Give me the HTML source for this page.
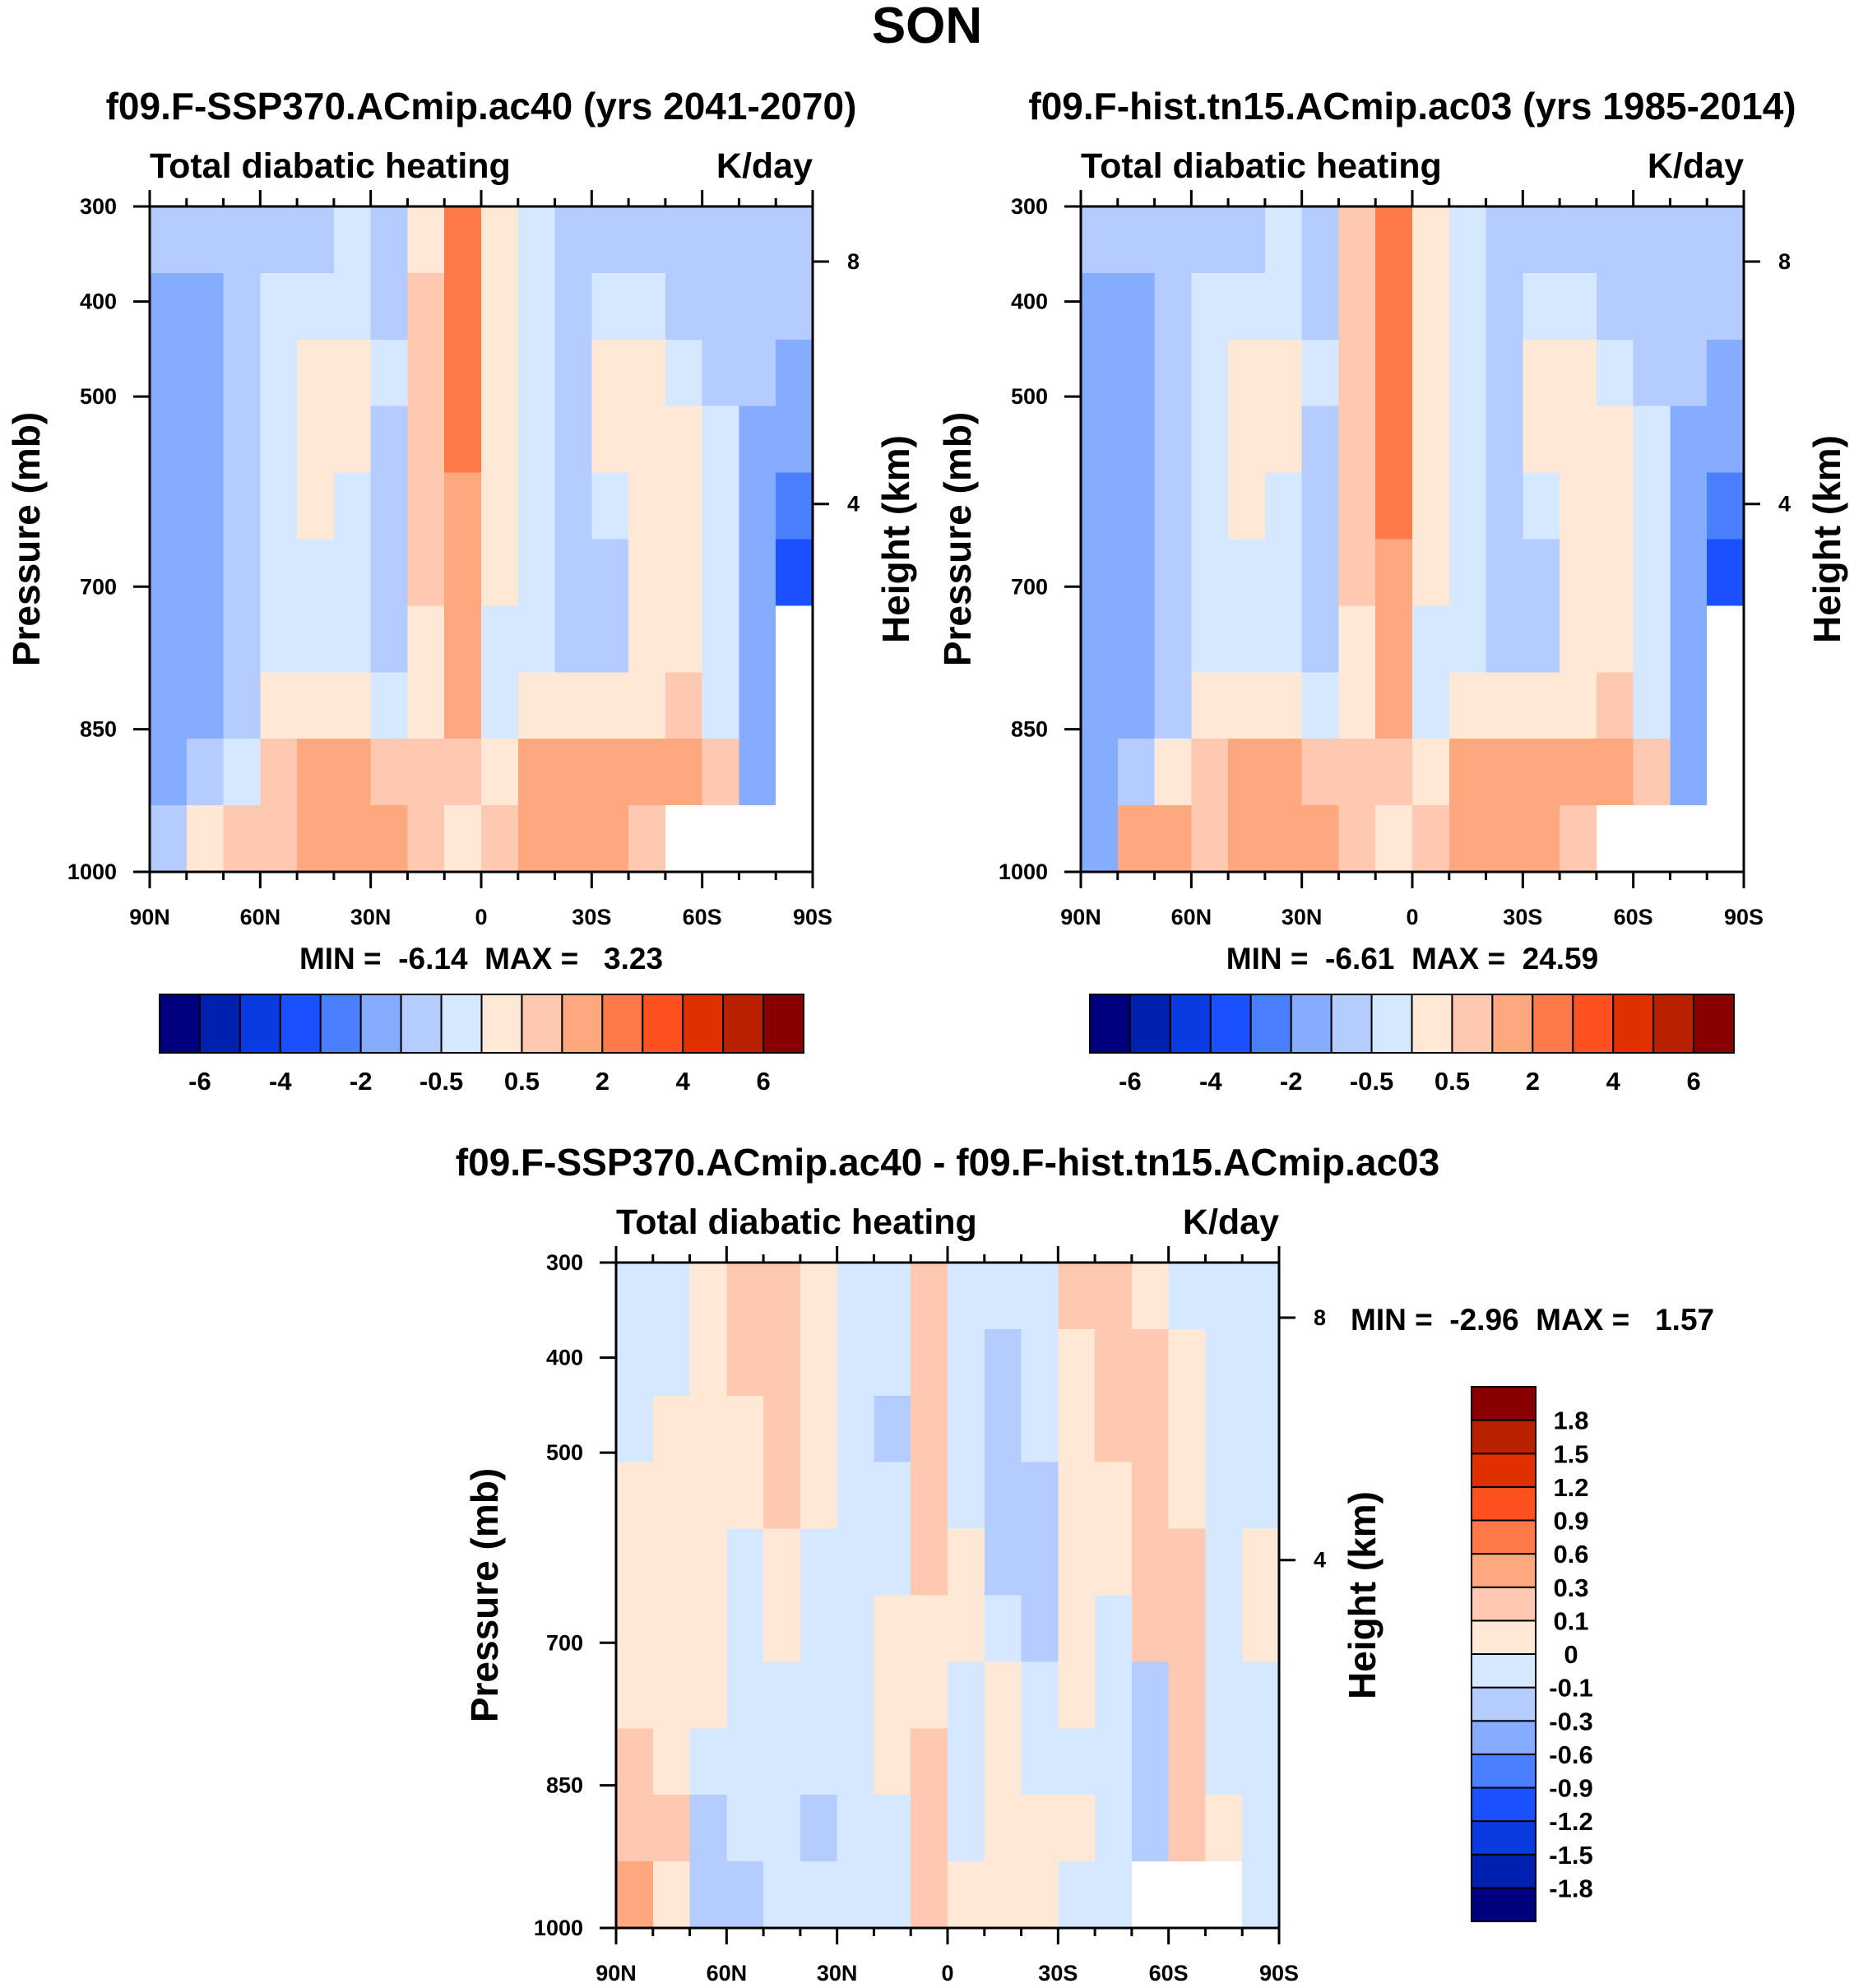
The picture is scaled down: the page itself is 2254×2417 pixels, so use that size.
<!DOCTYPE html>
<html><head><meta charset="utf-8">
<style>
html,body{margin:0;padding:0;background:#fff;}
svg{display:block;font-family:"Liberation Sans",sans-serif;font-weight:bold;}
.pre{white-space:pre;}
</style></head>
<body>
<svg id="fig" width="2254" height="2417" viewBox="0 0 2254 2417" xmlns="http://www.w3.org/2000/svg">
<text x="1127" y="52" font-size="62" text-anchor="middle">SON</text>
</svg>
<script>
const palette=["#00007f","#0020b0","#0a3be0","#1a50ff","#4a80ff","#86acff","#b4ccff","#d6e8ff","#ffe8d6","#ffc8b0","#ffa880","#ff7a48","#ff5020","#e03000","#b82000","#8a0000"];
const levelsAbs=[-6,-5,-4,-3,-2,-1,-0.5,0,0.5,1,2,3,4,5,6];
const levelLabelsAbs=["-6","-5","-4","-3","-2","-1","-0.5","0","0.5","1","2","3","4","5","6"];
const levelsDiff=[-1.8,-1.5,-1.2,-0.9,-0.6,-0.3,-0.1,0,0.1,0.3,0.6,0.9,1.2,1.5,1.8];
const levelLabelsDiff=["-1.8","-1.5","-1.2","-0.9","-0.6","-0.3","-0.1","0","0.1","0.3","0.6","0.9","1.2","1.5","1.8"];
const latCenters=[85,75,65,55,45,35,25,15,5,-5,-15,-25,-35,-45,-55,-65,-75,-85];
const latTicks=[90,60,30,0,-30,-60,-90];
const latTickLabels=["90N","60N","30N","0","30S","60S","90S"];
const presTicks=[300,400,500,700,850,1000];
const heightTicks=[8,4];
const heightTickPres=[358,613];
const N=NaN;
const panel1=[
[-0.7,-0.7,-0.7,-0.7,-0.7,-0.2,-0.7,0.3,2.5,0.3,-0.2,-0.7,-0.7,-0.7,-0.7,-0.7,-0.7,-0.7],
[-1.5,-1.5,-0.7,-0.2,-0.2,-0.2,-0.7,0.7,2.5,0.3,-0.2,-0.7,-0.2,-0.2,-0.7,-0.7,-0.7,-0.7],
[-1.5,-1.5,-0.7,-0.2,0.3,0.3,-0.2,0.7,2.5,0.3,-0.2,-0.7,0.3,0.3,-0.2,-0.7,-0.7,-1.5],
[-1.5,-1.5,-0.7,-0.2,0.3,0.3,-0.7,0.7,2.5,0.3,-0.2,-0.7,0.3,0.3,0.3,-0.2,-1.5,-1.5],
[-1.5,-1.5,-0.7,-0.2,0.3,-0.2,-0.7,0.7,1.5,0.3,-0.2,-0.7,-0.2,0.3,0.3,-0.2,-1.5,-2.5],
[-1.5,-1.5,-0.7,-0.2,-0.2,-0.2,-0.7,0.7,1.5,0.3,-0.2,-0.7,-0.7,0.3,0.3,-0.2,-1.5,-3.5],
[-1.5,-1.5,-0.7,-0.2,-0.2,-0.2,-0.7,0.3,1.5,-0.2,-0.2,-0.7,-0.7,0.3,0.3,-0.2,-1.5,N],
[-1.5,-1.5,-0.7,0.3,0.3,0.3,-0.2,0.3,1.5,-0.2,0.3,0.3,0.3,0.3,0.7,-0.2,-1.5,N],
[-1.5,-0.7,-0.2,0.7,1.5,1.5,0.7,0.7,0.7,0.3,1.5,1.5,1.5,1.5,1.5,0.7,-1.5,N],
[-0.7,0.3,0.7,0.7,1.5,1.5,1.5,0.7,0.3,0.7,1.5,1.5,1.5,0.7,N,N,N,N]];
const panel2=[
[-0.7,-0.7,-0.7,-0.7,-0.7,-0.2,-0.7,0.7,2.5,0.3,-0.2,-0.7,-0.7,-0.7,-0.7,-0.7,-0.7,-0.7],
[-1.5,-1.5,-0.7,-0.2,-0.2,-0.2,-0.7,0.7,2.5,0.3,-0.2,-0.7,-0.2,-0.2,-0.7,-0.7,-0.7,-0.7],
[-1.5,-1.5,-0.7,-0.2,0.3,0.3,-0.2,0.7,2.5,0.3,-0.2,-0.7,0.3,0.3,-0.2,-0.7,-0.7,-1.5],
[-1.5,-1.5,-0.7,-0.2,0.3,0.3,-0.7,0.7,2.5,0.3,-0.2,-0.7,0.3,0.3,0.3,-0.2,-1.5,-1.5],
[-1.5,-1.5,-0.7,-0.2,0.3,-0.2,-0.7,0.7,2.5,0.3,-0.2,-0.7,-0.2,0.3,0.3,-0.2,-1.5,-2.5],
[-1.5,-1.5,-0.7,-0.2,-0.2,-0.2,-0.7,0.7,1.5,0.3,-0.2,-0.7,-0.7,0.3,0.3,-0.2,-1.5,-3.5],
[-1.5,-1.5,-0.7,-0.2,-0.2,-0.2,-0.7,0.3,1.5,-0.2,-0.2,-0.7,-0.7,0.3,0.3,-0.2,-1.5,N],
[-1.5,-1.5,-0.7,0.3,0.3,0.3,-0.2,0.3,1.5,-0.2,0.3,0.3,0.3,0.3,0.7,-0.2,-1.5,N],
[-1.5,-0.7,0.3,0.7,1.5,1.5,0.7,0.7,0.7,0.3,1.5,1.5,1.5,1.5,1.5,0.7,-1.5,N],
[-1.5,1.5,1.5,0.7,1.5,1.5,1.5,0.7,0.3,0.7,1.5,1.5,1.5,0.7,N,N,N,N]];
const panelDiff=[
[-0.05,-0.05,0.05,0.2,0.2,0.05,-0.05,-0.05,0.2,-0.05,-0.05,-0.05,0.2,0.2,0.05,-0.05,-0.05,-0.05],
[-0.05,-0.05,0.05,0.2,0.2,0.05,-0.05,-0.05,0.2,-0.05,-0.2,-0.05,0.05,0.2,0.2,0.05,-0.05,-0.05],
[-0.05,0.05,0.05,0.05,0.2,0.05,-0.05,-0.2,0.2,-0.05,-0.2,-0.05,0.05,0.2,0.2,0.05,-0.05,-0.05],
[0.05,0.05,0.05,0.05,0.2,0.05,-0.05,-0.05,0.2,-0.05,-0.2,-0.2,0.05,0.05,0.2,0.05,-0.05,-0.05],
[0.05,0.05,0.05,-0.05,0.05,-0.05,-0.05,-0.05,0.2,0.05,-0.2,-0.2,0.05,0.05,0.2,0.2,-0.05,0.05],
[0.05,0.05,0.05,-0.05,0.05,-0.05,-0.05,0.05,0.05,0.05,-0.05,-0.2,0.05,-0.05,0.2,0.2,-0.05,0.05],
[0.05,0.05,0.05,-0.05,-0.05,-0.05,-0.05,0.05,0.05,-0.05,0.05,-0.05,0.05,-0.05,-0.2,0.2,-0.05,-0.05],
[0.2,0.05,-0.05,-0.05,-0.05,-0.05,-0.05,0.05,0.2,-0.05,0.05,-0.05,-0.05,-0.05,-0.2,0.2,-0.05,-0.05],
[0.2,0.2,-0.2,-0.05,-0.05,-0.2,-0.05,-0.05,0.2,-0.05,0.05,0.05,0.05,-0.05,-0.2,0.2,0.05,-0.05],
[0.45,0.05,-0.2,-0.2,-0.05,-0.05,-0.05,-0.05,0.2,0.05,0.05,0.05,-0.05,-0.05,N,N,N,-0.05]];

const NS="http://www.w3.org/2000/svg";
const svg=document.getElementById('fig');
function mk(tag,attrs,parent,text){const e=document.createElementNS(NS,tag);for(const k in attrs)e.setAttribute(k,attrs[k]);if(text!==undefined)e.textContent=text;(parent||svg).appendChild(e);return e;}
function colorIdx(v,lev){let i=0;while(i<lev.length&&v>=lev[i])i++;return i;}

function panel(name,X,Y,W,H,data,lev,title,minmax,lblX){
  const g=mk('g',{},svg);
  
  
  const xs=lat=>X+(90-lat)/180*W;
  const ys=p=>Y+(p-300)/700*H;
  const nr=data.length;const rowH=H/nr;
  data.forEach((row,ri)=>{row.forEach((v,ci)=>{
    const x0=xs(latCenters[ci]+5),x1=xs(latCenters[ci]-5);
    const r=mk('rect',{x:x0,y:Y+ri*rowH,width:x1-x0+0.6,height:rowH+0.6,fill:isNaN(v)?'#ffffff':palette[colorIdx(v,lev)],'shape-rendering':'crispEdges'},g);
    
    
  });});
  const frame=mk('rect',{x:X,y:Y,width:W,height:H,fill:'none',stroke:'#000','stroke-width':3},g);
  
  for(let lat=90;lat>=-90;lat-=10){const x=xs(lat);const major=lat%30===0;const L=major?20:10;
    mk('line',{x1:x,x2:x,y1:Y+H,y2:Y+H+L,stroke:'#000','stroke-width':3},g);
    mk('line',{x1:x,x2:x,y1:Y,y2:Y-L,stroke:'#000','stroke-width':3},g);}
  latTicks.forEach((lat,i)=>{const t=mk('text',{x:xs(lat),y:Y+H+64,'font-size':27,'text-anchor':'middle'},g,latTickLabels[i]);
    });
  presTicks.forEach(p=>{const y=ys(p);mk('line',{x1:X-20,x2:X,y1:y,y2:y,stroke:'#000','stroke-width':3},g);
    const t=mk('text',{x:X-40,y:y+9,'font-size':27,'text-anchor':'end'},g,String(p));
    });
  heightTicks.forEach((h,i)=>{const y=ys(heightTickPres[i]);mk('line',{x1:X+W,x2:X+W+20,y1:y,y2:y,stroke:'#000','stroke-width':3},g);
    const t=mk('text',{x:X+W+42,y:y+9,'font-size':27},g,String(h));
    });
  const yl=mk('text',{x:0,y:0,'font-size':46,'text-anchor':'middle',transform:`translate(${lblX},${Y+H/2}) rotate(-90)`},g,'Pressure (mb)');
  
  const hl=mk('text',{x:0,y:0,'font-size':46,'text-anchor':'middle',transform:`translate(${X+W+117},${Y+H/2}) rotate(-90)`},g,'Height (km)');
  
  const lt=mk('text',{x:X,y:Y-35,'font-size':43},g,'Total diabatic heating');
  
  const rt=mk('text',{x:X+W,y:Y-35,'font-size':43,'text-anchor':'end'},g,'K/day');
  
  const tt=mk('text',{x:X+W/2,y:Y-106,'font-size':46,'text-anchor':'middle'},g,title);
  
  if(minmax){const m=mk('text',{x:X+W/2,y:Y+H+118,'font-size':37,'text-anchor':'middle','class':'pre'},g,minmax);
    }
}
function hbar(name,X,Y,W,H,lev,labels){
  const g=mk('g',{},svg);
  
  
  const bw=W/palette.length;
  palette.forEach((c,i)=>{const r=mk('rect',{x:X+i*bw,y:Y,width:bw,height:H,fill:c,stroke:'#000','stroke-width':2},g);
    });
  labels.forEach((l,i)=>{if(i%2)return;const t=mk('text',{x:X+(i+1)*bw,y:Y+H+45,'font-size':31,'text-anchor':'middle'},g,l);
    });
}
function vbar(name,X,Y,W,H,lev,labels){
  const g=mk('g',{},svg);
  
  
  const bh=H/palette.length;
  palette.forEach((c,i)=>{const r=mk('rect',{x:X,y:Y+H-(i+1)*bh,width:W,height:bh,fill:c,stroke:'#000','stroke-width':2},g);
    });
  labels.forEach((l,i)=>{const t=mk('text',{x:X+W+43,y:Y+H-(i+1)*bh+11,'font-size':31,'text-anchor':'middle'},g,l);
    });
}
panel('panel-ssp370',182,251,806,809,panel1,levelsAbs,'f09.F-SSP370.ACmip.ac40 (yrs 2041-2070)','MIN =  -6.14  MAX =   3.23',48);
panel('panel-hist',1314,251,806,809,panel2,levelsAbs,'f09.F-hist.tn15.ACmip.ac03 (yrs 1985-2014)','MIN =  -6.61  MAX =  24.59',1180);
panel('panel-diff',749,1535,806,809,panelDiff,levelsDiff,'f09.F-SSP370.ACmip.ac40 - f09.F-hist.tn15.ACmip.ac03',null,605);
hbar('colorbar-ssp370',194,1209,783,71,levelsAbs,levelLabelsAbs);
hbar('colorbar-hist',1325,1209,783,71,levelsAbs,levelLabelsAbs);
vbar('colorbar-diff',1789,1686,78,650,levelsDiff,levelLabelsDiff);
const mm=mk('text',{x:1642,y:1617,'font-size':37,'class':'pre'},svg,'MIN =  -2.96  MAX =   1.57');


</script>
</body></html>
